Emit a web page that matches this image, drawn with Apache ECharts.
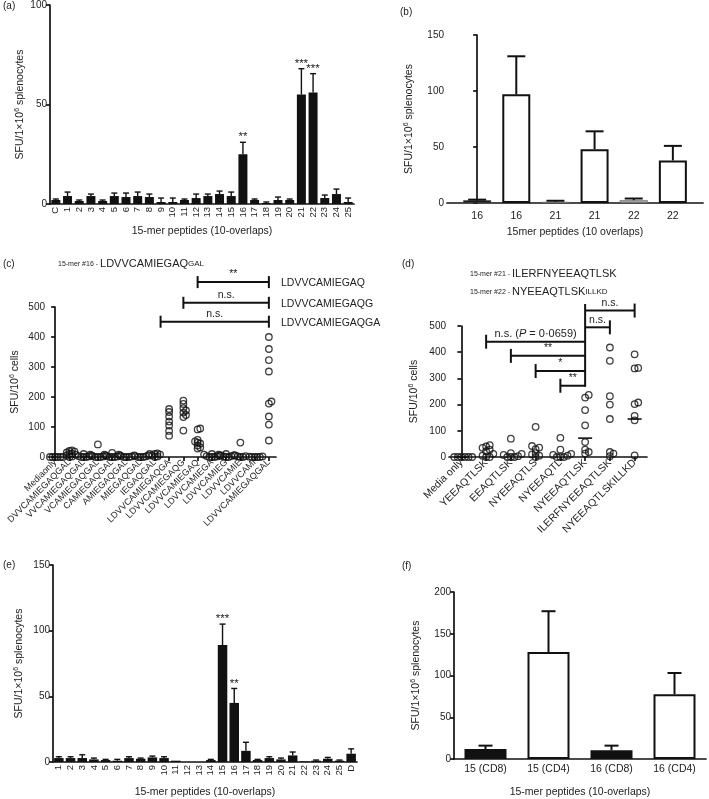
<!DOCTYPE html>
<html><head><meta charset="utf-8">
<script src="https://cdn.jsdelivr.net/npm/echarts@6/dist/echarts.min.js"></script>
<style>html,body{margin:0;padding:0;background:#fff}#c{width:709px;height:799px}</style>
</head><body><div id="c"></div>
<script>
// ---------- Panel (a) ----------
const aCats = ['C','1','2','3','4','5','6','7','8','9','10','11','12','13','14','15','16','17','18','19','20','21','22','23','24','25'];
const aMeans = [2,4,1.5,4,1.5,4,3.5,4,3.5,1,1,2,3,4,5,4,25,2,0.5,2,2,55,56,3,5,1];
const aErrs  = [0.5,2,0.5,1,0.5,1.5,2,2,1.5,2,2,0.5,2,1,1.5,2,6,0.5,0.5,1.5,0.5,13,9.5,1.5,2.5,2];
const aStars = ['','','','','','','','','','','','','','','','','**','','','','','***','***','','',''];
const aTicks = [0,50,100];

// ---------- Panel (b) ----------
const bCats  = ['16','16','21','21','22','22'];
const bMeans = [2.5,97,1,48,2.5,38];
const bErrs  = [0.5,34,1,16,1.5,13];
const bTicks = [0,50,100,150];

// ---------- Panel (c) ----------
const cCats = ['Mediaonly','DVVCAMIEGAQGAL','VVCAMIEGAQGAL','VCAMIEGAQGAL','CAMIEGAQGAL','AMIEGAQGAL','MIEGAQGAL','IEGAQGAL','LDVVCAMIEGAQGA','LDVVCAMIEGAQG','LDVVCAMIEGAQ','LDVVCAMIEGA','LDVVCAMIEG','LDVVCAMIE','LDVVCAMI','LDVVCAMIEGAQGAL'];
const cVals = [
  [0,0,0,0,0,0,0],
  [22,20,18,15,12,10,5,2,0],
  [10,8,5,3,2,0,0,0],
  [42,8,5,3,2,0,0,0],
  [14,8,5,3,2,0,0,0],
  [8,5,3,2,0,0,0],
  [5,3,2,0,0,0],
  [12,10,10,8,5,2,0],
  [160,150,135,118,105,87,71],
  [188,177,163,155,148,140,133,88],
  [95,92,57,52,48,45,38,32,28],
  [10,8,5,3,2,0,0,0],
  [10,8,6,5,3,2,0,0],
  [48,5,3,2,0,0],
  [2,1,0,0,0,0],
  [400,360,323,285,185,178,135,108,55]
];
const cBrackets = [
  {from:10, to:15, y:583, label:'**'},
  {from:9,  to:15, y:514, label:'n.s.'},
  {from:7.4,to:15, y:451, label:'n.s.'}
];
const cSideLabels = ['LDVVCAMIEGAQ','LDVVCAMIEGAQG','LDVVCAMIEGAQGA'];
const cTicks = [0,100,200,300,400,500];

// ---------- Panel (d) ----------
const dCats = ['Media only','YEEAQTLSK','EEAQTLSK','NYEEAQTLS','NYEEAQTL','NYEEAQTLSK','ILERFNYEEAQTLSK','NYEEAQTLSKILLKD'];
const dVals = [
  [0,0,0,0,0,0],
  [45,40,35,28,22,12,5,0,0],
  [70,15,12,8,3,0,0,0],
  [115,42,36,30,15,10,5,0],
  [73,28,12,8,5,0,0,0],
  [237,227,179,121,57,28,19,13],
  [418,367,232,200,145,19,13,3],
  [392,340,338,208,202,157,140,6]
];
const dMedians = [0,null,null,null,null,72,null,145];
const dBrackets = [
  {from:5, to:7, y:559, label:'n.s.', tick:'R'},
  {from:5, to:6, y:495, label:'n.s.', tick:'R'},
  {from:1, to:5, y:440, label:'{n|n.s. (}{i|P}{n| = 0·0659)}', tick:'L'},
  {from:2, to:5, y:386, label:'**', tick:'L'},
  {from:3, to:5, y:328, label:'*', tick:'L'},
  {from:4, to:5, y:272, label:'**', tick:'L'}
];
const dVertical = {x:5, y1:268, y2:584};
const dTicks = [0,100,200,300,400,500];

// ---------- Panel (e) ----------
const eCats = ['1','2','3','4','5','6','7','8','9','10','11','12','13','14','15','16','17','18','19','20','21','22','23','24','25','D'];
const eMeans = [3,3,3,2,1.5,1,3,2.5,3.5,3,1,0,0,1.5,89,45,8.5,1.5,3,2,5,0.5,1,2.5,1,6.3];
const eErrs  = [1,1,2.5,1,0.5,1,1,0.5,1,1,0,0,0,0.5,16,11,6.5,0.5,1,1,2.6,0,0.5,1,0.5,3.7];
const eStars = ['','','','','','','','','','','','','','','***','**','','','','','','','','','',''];
const eTicks = [0,50,100,150];

// ---------- Panel (f) ----------
const fCats  = ['15 (CD8)','15 (CD4)','16 (CD8)','16 (CD4)'];
const fMeans = [12,128,10.5,77.5];
const fErrs  = [4,49,5.5,25.5];
const fTicks = [0,50,100,150,200];

// ================= styling / building =================
const FONT = '"Liberation Sans", Arial, Helvetica, sans-serif';
const INK = '#111';
const TXT = '#222';
const LINE = {color: INK, width: 1.7};
const SUP = {fontSize: 7, fontFamily: FONT, color: TXT, padding: [0,0,6,0]};

const grids = [
  {left:50,  top:5,   width:304, height:199},
  {left:447, top:35,  width:256, height:168},
  {left:48,  top:307, width:228, height:150},
  {left:449, top:326, width:198, height:131},
  {left:53,  top:565, width:304, height:198},
  {left:454, top:592, width:252, height:167}
];

function yAx(gi, ticks, name, gap) {
  return {
    type:'value', gridIndex:gi, min:ticks[0], max:ticks[ticks.length-1],
    interval:ticks[1]-ticks[0],
    axisLine:{show:true, lineStyle:LINE},
    axisTick:{show:true, length:4, lineStyle:LINE},
    axisLabel:{fontSize:10, color:TXT, margin:3, fontFamily:FONT},
    splitLine:{show:false},
    name:name, nameLocation:'middle', nameGap:gap, nameMoveOverlap:false,
    nameTextStyle:{fontSize:10.5, color:TXT, fontFamily:FONT, rich:{sup:SUP}}
  };
}
const nameSpl = 'SFU/1×10{sup|6} splenocytes';
const nameCells = 'SFU/10{sup|6} cells';

function catX(gi, cats, opts) {
  return Object.assign({
    type:'category', gridIndex:gi, data:cats,
    axisLine:{show:true, lineStyle:LINE},
    axisTick:{show:false},
    axisLabel:{fontSize:9, color:TXT, fontFamily:FONT, interval:0},
    splitLine:{show:false}, nameMoveOverlap:false
  }, opts || {});
}
const xNameStyle = {fontSize:10.5, color:TXT, fontFamily:FONT};

const xAxes = [
  catX(0, aCats, {axisLabel:{fontSize:9.5, color:TXT, fontFamily:FONT, interval:0, rotate:90, margin:3},
    name:'15-mer peptides (10-overlaps)', nameLocation:'middle', nameGap:22, nameTextStyle:xNameStyle}),
  {type:'value', gridIndex:1, min:-0.77, max:5.77, nameMoveOverlap:false,
    axisLine:{show:true, onZero:false, lineStyle:LINE}, axisTick:{show:false}, splitLine:{show:false},
    axisLabel:{fontSize:10.5, color:TXT, fontFamily:FONT, margin:8, customValues:[0,1,2,3,4,5],
      formatter:(v)=>bCats[Math.round(v)]},
    name:'15mer peptides (10 overlaps)', nameLocation:'middle', nameGap:24, nameTextStyle:xNameStyle},
  catX(2, cCats, {axisTick:{show:true, alignWithLabel:true, length:4, lineStyle:LINE},
    axisLabel:{fontSize:9, color:TXT, fontFamily:FONT, interval:0, rotate:45, margin:4}}),
  {type:'value', gridIndex:2, min:-0.5, max:cCats.length-0.5, show:false},
  catX(3, dCats, {axisTick:{show:true, alignWithLabel:true, length:4, lineStyle:LINE},
    axisLabel:{fontSize:10.5, color:TXT, fontFamily:FONT, interval:0, rotate:45, margin:4}}),
  {type:'value', gridIndex:3, min:-0.5, max:dCats.length-0.5, show:false},
  catX(4, eCats, {axisLabel:{fontSize:9.5, color:TXT, fontFamily:FONT, interval:0, rotate:90, margin:3},
    name:'15-mer peptides (10-overlaps)', nameLocation:'middle', nameGap:25, nameTextStyle:xNameStyle}),
  catX(5, fCats, {axisLabel:{fontSize:10.5, color:TXT, fontFamily:FONT, interval:0, margin:5},
    name:'15-mer peptides (10-overlaps)', nameLocation:'middle', nameGap:28, nameTextStyle:xNameStyle})
];
const yAxes = [
  yAx(0, aTicks, nameSpl, 23),
  yAx(1, bTicks, nameSpl, 31),
  yAx(2, cTicks, nameCells, 26),
  yAx(3, dTicks, nameCells, 28),
  yAx(4, eTicks, nameSpl, 27),
  yAx(5, fTicks, nameSpl, 31)
];

function errSeries(xi, yi, means, errs, stars, capW, lw) {
  return {
    type:'custom', xAxisIndex:xi, yAxisIndex:yi, z:5, clip:false,
    data: means.map((m,i)=>[i,m]),
    renderItem:function(params, api){
      const i = params.dataIndex;
      const m = means[i], e = errs[i];
      const ch = [];
      const p0 = api.coord([api.value(0), m]);
      const p1 = api.coord([api.value(0), m+e]);
      if (e > 0) {
        ch.push({type:'line', shape:{x1:p0[0],y1:p0[1],x2:p1[0],y2:p1[1]}, style:{stroke:INK, lineWidth:lw}});
        ch.push({type:'line', shape:{x1:p1[0]-capW/2,y1:p1[1],x2:p1[0]+capW/2,y2:p1[1]}, style:{stroke:INK, lineWidth:lw}});
      }
      if (stars && stars[i]) {
        ch.push({type:'text', x:p1[0], y:p1[1]-5, style:{text:stars[i], fontSize:11.5, fontFamily:FONT, fill:TXT, align:'center', verticalAlign:'middle'}});
      }
      return {type:'group', children:ch};
    }
  };
}

function swarm(vals, catIndex, pxCat, pxUnit, dist) {
  const order = vals.map((v,i)=>i).sort((a,b)=>vals[a]-vals[b]);
  const placed = [];
  const out = [];
  for (const i of order) {
    const y = vals[i]*pxUnit;
    let chosen = 0;
    for (let k=0; k<30; k++) {
      const dx = (k%2 ? 1 : -1) * Math.ceil(k/2) * dist;
      if (placed.every(p => (p.x-dx)*(p.x-dx)+(p.y-y)*(p.y-y) >= dist*dist*0.99)) { chosen = dx; break; }
    }
    placed.push({x:chosen, y:y});
    out.push([catIndex + chosen/pxCat, vals[i]]);
  }
  return out;
}

const scatterStyle = {color:'rgba(255,255,255,0)', borderColor:INK, borderWidth:1.3};
const cPts = [].concat(...cVals.map((vs,i)=>swarm(vs, i, 228/cCats.length, 150/500, 2.6)));
const dPts = [].concat(...dVals.map((vs,i)=>swarm(vs, i, 198/dCats.length, 131/500, 3.6)));

function bracketSeries(xi, yi, brackets, halfTick, bothTicks, vertical) {
  return {
    type:'custom', xAxisIndex:xi, yAxisIndex:yi, clip:false, z:6,
    data: brackets.map(b=>[b.from, b.y]),
    renderItem:function(params, api){
      const b = brackets[params.dataIndex];
      const p0 = api.coord([b.from, b.y]);
      const p1 = api.coord([b.to, b.y]);
      const st = {stroke:INK, lineWidth:2};
      const ch = [{type:'line', shape:{x1:p0[0],y1:p0[1],x2:p1[0],y2:p1[1]}, style:st}];
      if (bothTicks || b.tick==='L') ch.push({type:'line', shape:{x1:p0[0],y1:p0[1]-halfTick,x2:p0[0],y2:p0[1]+halfTick}, style:st});
      if (bothTicks || b.tick==='R') ch.push({type:'line', shape:{x1:p1[0],y1:p1[1]-halfTick,x2:p1[0],y2:p1[1]+halfTick}, style:st});
      if (vertical && params.dataIndex===0) {
        const v0 = api.coord([vertical.x, vertical.y1]), v1 = api.coord([vertical.x, vertical.y2]);
        ch.push({type:'line', shape:{x1:v0[0],y1:v0[1],x2:v1[0],y2:v1[1]}, style:st});
      }
      ch.push({type:'text', x:(p0[0]+p1[0])/2, y:p0[1]-2, style:{text:b.label, fontSize:10.5, fontFamily:FONT, fill:TXT, align:'center', verticalAlign:'bottom',
        rich:{n:{fontSize:11, fontFamily:FONT, fill:TXT}, i:{fontSize:11, fontFamily:FONT, fontStyle:'italic', fill:TXT}}}});
      return {type:'group', children:ch};
    }
  };
}

const series = [
  // (a)
  {type:'bar', xAxisIndex:0, yAxisIndex:0, data:aMeans, barWidth:9, itemStyle:{color:INK}},
  errSeries(0, 0, aMeans, aErrs, aStars, 6, 1.4),
  // (b)
  {type:'bar', xAxisIndex:1, yAxisIndex:1, data:bMeans.map((m,i)=>({value:[i,m],
      itemStyle:{color:['#1a1a1a','#fff','#c4c4c4','#fff','#a0a0a0','#fff'][i], borderColor:i%2?INK:'#555', borderWidth:i%2?2:0.5}})),
    barWidth:28},
  errSeries(1, 1, bMeans, bErrs, null, 18, 2),
  // (c)
  {type:'scatter', xAxisIndex:3, yAxisIndex:2, data:cPts, symbol:'circle', symbolSize:6.5, itemStyle:scatterStyle, z:4},
  bracketSeries(3, 2, cBrackets, 6, true, null),
  // (d)
  {type:'scatter', xAxisIndex:5, yAxisIndex:3, data:dPts, symbol:'circle', symbolSize:6.5, itemStyle:scatterStyle, z:4},
  {type:'custom', xAxisIndex:5, yAxisIndex:3, z:5,
    data: dMedians.map((m,i)=>[i, m==null?0:m]),
    renderItem:function(params, api){
      const m = dMedians[params.dataIndex];
      if (m==null) return null;
      const p = api.coord([params.dataIndex, m]);
      return {type:'line', shape:{x1:p[0]-7,y1:p[1],x2:p[0]+7,y2:p[1]}, style:{stroke:INK, lineWidth:1.6}};
    }},
  bracketSeries(5, 3, dBrackets, 7, false, dVertical),
  // (e)
  {type:'bar', xAxisIndex:6, yAxisIndex:4, data:eMeans, barWidth:9.5, itemStyle:{color:INK}},
  errSeries(6, 4, eMeans, eErrs, eStars, 6, 1.4),
  // (f)
  {type:'bar', xAxisIndex:7, yAxisIndex:5, data:fMeans.map((m,i)=>({value:m,
      itemStyle:{color:i%2?'#fff':'#111', borderColor:INK, borderWidth:2}})), barWidth:42},
  errSeries(7, 5, fMeans, fErrs, null, 14, 2)
];

const T = (x, y, text, size, extra) => ({type:'text', x:x, y:y, style:Object.assign({text:text, fontSize:size, fontFamily:FONT, fill:TXT, verticalAlign:'middle'}, extra||{})});
const titleRich = {
  s:{fontSize:7, fontFamily:FONT, fill:TXT},
  b:{fontSize:11, fontFamily:FONT, fill:TXT},
  sc:{fontSize:8, fontFamily:FONT, fill:TXT}
};
const graphic = [
  T(3, 6, '(a)', 10),
  T(400, 12, '(b)', 10),
  T(3, 264, '(c)', 10),
  T(402, 264, '(d)', 10),
  T(3, 565, '(e)', 10),
  T(402, 566, '(f)', 10),
  T(58, 264, '{s|15-mer #16 - }{b|LDVVCAMIEGAQ}{sc|GAL}', 11, {rich:titleRich}),
  T(470, 274, '{s|15-mer #21 - }{b|ILERFNYEEAQTLSK}', 11, {rich:titleRich}),
  T(470, 292, '{s|15-mer #22 - }{b|NYEEAQTLSK}{sc|ILLKD}', 11, {rich:titleRich}),
  T(281, 283, cSideLabels[0], 10.5),
  T(281, 304, cSideLabels[1], 10.5),
  T(281, 323, cSideLabels[2], 10.5)
];

const chart = echarts.init(document.getElementById('c'), null, {renderer:'canvas'});
chart.setOption({
  animation:false,
  backgroundColor:'#fff',
  textStyle:{fontFamily:FONT},
  grid:grids,
  xAxis:xAxes,
  yAxis:yAxes,
  series:series,
  graphic:graphic
});
</script></body></html>
